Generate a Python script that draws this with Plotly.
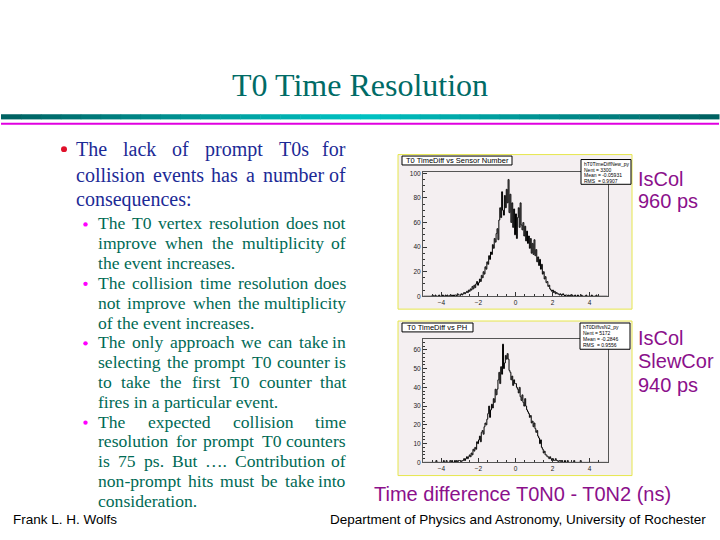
import numpy as np
import plotly.graph_objects as go

# histogram bins: 200 bins of 0.05 ns from -5 to 5
bin_lo, bin_w, n_bins = -5.0, 0.05, 200

# counts per bin (one row = 1 ns)
sensor_counts = [
    0, 0, 0, 0, 0, 0, 0, 0, 0, 0, 1, 0, 0, 1, 0, 0, 0, 1, 0, 0,
    0, 1, 0, 0, 1, 0, 1, 0, 0, 1, 1, 0, 1, 0, 1, 1, 0, 2, 1, 1,
    1, 2, 1, 2, 3, 2, 3, 4, 3, 5, 4, 6, 5, 8, 6, 9, 7, 10, 12, 9,
    11, 14, 12, 17, 15, 20, 18, 24, 22, 28, 26, 33, 30, 36, 34, 42, 39, 47, 44, 51,
    55, 46, 62, 72, 64, 85, 70, 66, 82, 72, 87, 76, 95, 68, 83, 60, 76, 56, 71, 50,
    67, 47, 64, 72, 56, 76, 58, 54, 60, 49, 57, 45, 53, 43, 49, 39, 47, 35, 43, 34,
    46, 33, 38, 28, 32, 25, 30, 22, 26, 18, 20, 14, 16, 11, 12, 8, 9, 6, 5, 4,
    5, 3, 4, 2, 3, 2, 2, 1, 2, 1, 1, 2, 1, 0, 1, 1, 0, 1, 0, 1,
    0, 1, 0, 0, 1, 0, 0, 1, 0, 0, 0, 1, 0, 0, 0, 0, 1, 0, 0, 0,
    0, 0, 1, 0, 0, 0, 0, 1, 0, 0, 0, 0, 0, 0, 0, 0, 0, 0, 0, 0,
]
ph_counts = [
    0, 0, 0, 0, 0, 0, 0, 0, 0, 0, 0, 0, 0, 0, 1, 0, 0, 0, 0, 0,
    0, 0, 1, 0, 0, 1, 0, 0, 0, 1, 0, 1, 0, 0, 1, 0, 1, 0, 1, 1,
    1, 0, 1, 1, 2, 1, 2, 3, 2, 3, 4, 3, 5, 4, 7, 6, 8, 7, 11, 10,
    12, 14, 11, 16, 17, 15, 19, 21, 20, 23, 26, 30, 24, 28, 31, 29, 34, 32, 39, 36,
    39, 44, 48, 42, 51, 47, 63, 50, 53, 57, 55, 58, 55, 49, 48, 44, 46, 41, 44, 42,
    42, 40, 39, 37, 40, 35, 33, 36, 32, 30, 34, 30, 28, 27, 26, 24, 25, 21, 22, 19,
    21, 18, 16, 17, 14, 13, 10, 12, 8, 7, 5, 6, 4, 4, 3, 3, 2, 3, 2, 1,
    2, 1, 1, 2, 1, 1, 0, 1, 1, 0, 1, 0, 0, 1, 0, 0, 1, 0, 0, 0,
    0, 0, 0, 1, 0, 0, 0, 0, 0, 0, 1, 0, 0, 0, 0, 0, 0, 0, 0, 0,
    0, 0, 0, 0, 0, 0, 0, 0, 0, 0, 0, 0, 0, 0, 0, 0, 0, 0, 0, 0,
]

hist_titles = ["T0 TimeDiff vs Sensor Number", "T0 TimeDiff vs PH"]
stat_lines = [
    ["hT0TimeDiffNew_py", "Nent = 3300", "Mean = -0.05931", "RMS  = 0.9907"],
    ["hT0DiffvsN2_py", "Nent = 5172", "Mean = -0.2846", "RMS  = 0.9556"],
]
side_labels = [["IsCol", "960 ps"], ["IsCol", "SlewCor", "940 ps"]]

# slide text: (level, has bullet, justified, text)
text_lines = [
    (0, True, True, "The lack of prompt T0s for"),
    (0, False, True, "collision events has a number of"),
    (0, False, False, "consequences:"),
    (1, True, True, "The T0 vertex resolution does not"),
    (1, False, True, "improve when the multiplicity of"),
    (1, False, False, "the event increases."),
    (1, True, True, "The collision time resolution does"),
    (1, False, True, "not improve when the multiplicity"),
    (1, False, False, "of the event increases."),
    (1, True, True, "The only approach we can take in"),
    (1, False, True, "selecting the prompt T0 counter is"),
    (1, False, True, "to take the first T0 counter that"),
    (1, False, False, "fires in a particular event."),
    (1, True, True, "The expected collision time"),
    (1, False, True, "resolution for prompt T0 counters"),
    (1, False, True, "is 75 ps. But \u2026. Contribution of"),
    (1, False, True, "non-prompt hits must be take into"),
    (1, False, False, "consideration."),
]

W, H = 720, 540


def px(x):
    return x / W


def py(y):
    return 1 - y / H


# Times New Roman advance widths (1/1000 em), used to spread justified lines
TIMES = {
    " ": 250, "a": 444, "b": 500, "c": 444, "d": 500, "e": 444, "f": 333,
    "g": 500, "h": 500, "i": 278, "j": 278, "k": 500, "l": 278, "m": 778,
    "n": 500, "o": 500, "p": 500, "q": 500, "r": 333, "s": 389, "t": 278,
    "u": 500, "v": 500, "w": 722, "x": 500, "y": 500, "z": 444, "T": 611,
    "B": 667, "C": 667, ".": 250, ":": 278, "-": 333, "\u2026": 1000, ",": 250,
}


def word_width(w, size):
    return sum(TIMES.get(c, 500) for c in w) / 1000 * size


annotations = []
shapes = []


def ann(text, x, base, size, color, family, anchor="left"):
    # place text by its baseline (pixels from top)
    annotations.append(dict(
        text=text, x=px(x), y=py(base - 0.34 * size), xref="paper", yref="paper",
        xanchor=anchor, yanchor="middle", showarrow=False, borderpad=0,
        font=dict(size=size, color=color, family=family),
    ))


serif = "Liberation Serif, Times New Roman, serif"
sans = "Liberation Sans, Arial, sans-serif"

fig = go.Figure()

# title and the two rules under it
ann("T0 Time Resolution", 360, 94.5, 32, "#006b66", serif, "center")
n_seg = 36
for i in range(n_seg):
    t = abs((i + 0.5) / n_seg - 0.5) * 2
    g = int(0xc4 - (0xc4 - 0x60) * t)
    shapes.append(dict(type="rect", xref="paper", yref="paper",
                       x0=px(1 + i * 718 / n_seg), x1=px(1 + (i + 1) * 718 / n_seg + 0.5),
                       y0=py(118.5), y1=py(113.3), fillcolor=f"rgb(0,{g},{g})",
                       line=dict(width=0)))
shapes.append(dict(type="rect", xref="paper", yref="paper", x0=px(1), x1=px(719),
                   y0=py(124), y1=py(122), fillcolor="#e000e0", line=dict(width=0)))

# bullet text
right_edge = 347
main_k = 0
sub_k = 0
for level, bullet, just, line in text_lines:
    if level == 0:
        base = [155.5, 181, 206.5][main_k]
        main_k += 1
        size, color, left = 20, "#1c2a96", 75
        bx, by, br, bc = 64, base - 7, 3, "#e0102a"
    else:
        base = 229.5 + 20 * sub_k
        sub_k += 1
        size, color, left = 17.6, "#006a55", 97
        bx, by, br, bc = 85.5, base - 5, 2.2, "#ff00ff"
    if bullet:
        shapes.append(dict(type="circle", xref="paper", yref="paper",
                           x0=px(bx - br), x1=px(bx + br), y0=py(by + br), y1=py(by - br),
                           fillcolor=bc, line=dict(width=0)))
    if not just:
        ann(line, left, base, size, color, serif)
        continue
    words = line.split(" ")
    widths = [word_width(w, size) for w in words]
    gap = (right_edge - left - sum(widths)) / (len(words) - 1)
    x = left
    for i, w in enumerate(words):
        if i == len(words) - 1:
            ann(w, right_edge, base, size, color, serif, "right")
        else:
            ann(w, x, base, size, color, serif)
        x += widths[i] + gap

# histogram panels
centers = bin_lo + bin_w * (np.arange(n_bins) + 0.5)
panels = [
    dict(counts=sensor_counts, box=(398, 154, 632, 310), frame=(171.7, 297), ymax=101, dtick=20,
         minor=5, tbox=(402, 155.5, 512, 164.5), sbox=(581, 159, 631, 184)),
    dict(counts=ph_counts, box=(398, 322, 632, 478), frame=(339.7, 464.7), ymax=66, dtick=10,
         minor=2, tbox=(402, 324, 473, 333), sbox=(580, 324, 630, 350.5)),
]
purple = "#8b108b"
for k, p in enumerate(panels):
    sx = "" if k == 0 else str(k + 1)
    x0, y0, x1, y1 = p["box"]
    shapes.append(dict(type="rect", xref="paper", yref="paper", layer="below",
                       x0=px(x0), x1=px(x1), y0=py(y1), y1=py(y0),
                       fillcolor="#f4eff1", line=dict(color="#e6e64c", width=1)))
    fig.add_trace(go.Scatter(
        x=centers, y=p["counts"], mode="lines", xaxis="x" + sx, yaxis="y" + sx,
        line=dict(shape="hvh", color="black", width=1), hoverinfo="skip",
    ))
    ft, fb = p["frame"]
    axis_common = dict(showline=True, mirror=True, linecolor="#555", linewidth=1,
                       ticks="inside", ticklen=4, tickcolor="#333", showgrid=False,
                       zeroline=False, tickfont=dict(size=6.5, family=sans, color="#222"))
    fig.update_layout({
        "xaxis" + sx: dict(domain=[px(423), px(608)], range=[-5, 5], anchor="y" + sx,
                           dtick=2, tick0=0, minor=dict(ticks="inside", ticklen=2, dtick=0.5,
                                                        tickcolor="#333"),
                           **axis_common),
        "yaxis" + sx: dict(domain=[py(fb), py(ft)], range=[0, p["ymax"]], anchor="x" + sx,
                           dtick=p["dtick"], minor=dict(ticks="inside", ticklen=2,
                                                        dtick=p["minor"], tickcolor="#333"),
                           **axis_common),
    })
    # title box
    tx0, ty0, tx1, ty1 = p["tbox"]
    shapes.append(dict(type="rect", xref="paper", yref="paper", x0=px(tx0), x1=px(tx1),
                       y0=py(ty1), y1=py(ty0), fillcolor="white", line=dict(color="black", width=1)))
    ann(hist_titles[k], (tx0 + tx1) / 2, ty1 - 2, 7.5, "black", sans, "center")
    # stats box
    sx0, sy0, sx1, sy1 = p["sbox"]
    shapes.append(dict(type="rect", xref="paper", yref="paper", x0=px(sx0), x1=px(sx1),
                       y0=py(sy1), y1=py(sy0), fillcolor="white", line=dict(color="black", width=1)))
    for j, s in enumerate(stat_lines[k]):
        ann(s, sx0 + 2, sy0 + 6 + j * 5.9, 5, "black", sans)
    # side label
    side_base = [[185.5, 207.5], [345.5, 369.5, 393.5]][k]
    for j, s in enumerate(side_labels[k]):
        ann(s, 637, side_base[j], 20, purple, sans)

ann("Time difference T0N0 - T0N2 (ns)", 373, 503, 20, purple, sans)
ann("Frank L. H. Wolfs", 12, 527, 13.5, "black", sans)
ann("Department of Physics and Astronomy, University of Rochester", 707, 527, 13.5, "black", sans, "right")

fig.update_layout(
    width=W, height=H, margin=dict(l=0, r=0, t=0, b=0),
    paper_bgcolor="white", plot_bgcolor="#f4eff1", showlegend=False,
    annotations=annotations, shapes=shapes,
)

# drop the page's default body margin so the 720x540 figure fills the window
fig.write_html("out.html", config={"displayModeBar": False},
               post_script="document.body.style.margin='0px';")
